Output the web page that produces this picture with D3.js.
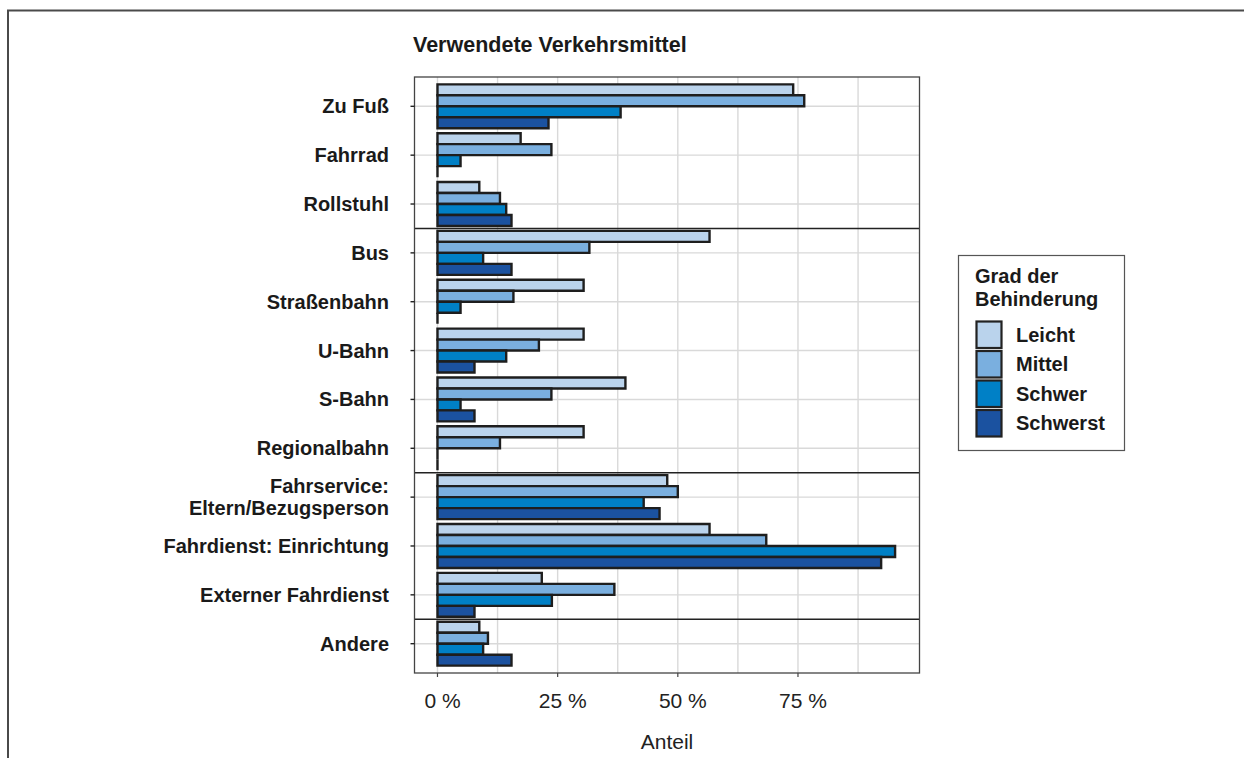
<html>
<head>
<meta charset="utf-8">
<title>Verwendete Verkehrsmittel</title>
<style type="text/css">
body { margin: 0; background: #fff; }
svg { font-family: "Liberation Sans", Arial, sans-serif; }
.grid { stroke: #d9d9d9; stroke-width: 1.4px; }
.bar { stroke: #1e1e1e; stroke-width: 2.4px; }
.lab { fill: #1a1a1a; font-weight: bold; font-size: 20px; }
</style>
</head>
<body>
<script src="https://d3js.org/d3.v7.min.js"></script>
<script>
// categories top to bottom
var categories = ["Zu Fuß", "Fahrrad", "Rollstuhl", "Bus", "Straßenbahn", "U-Bahn", "S-Bahn",
  "Regionalbahn", "Fahrservice:\nEltern/Bezugsperson", "Fahrdienst: Einrichtung",
  "Externer Fahrdienst", "Andere"];
var series = ["Leicht", "Mittel", "Schwer", "Schwerst"];
var colors = ["#bad3ec", "#7aafdf", "#0080c6", "#1b52a0"];

// share in % per degree of disability
var leicht   = [74.0, 17.3, 8.7, 56.6, 30.4, 30.4, 39.1, 30.4, 47.8, 56.6, 21.7, 8.7];
var mittel   = [76.3, 23.7, 13.0, 31.6, 15.8, 21.1, 23.7, 13.0, 50.0, 68.4, 36.8, 10.5];
var schwer   = [38.1, 4.8, 14.3, 9.5, 4.8, 14.3, 4.8, 0, 42.9, 95.2, 23.8, 9.5];
var schwerst = [23.1, 0, 15.4, 15.4, 0, 7.7, 7.7, 0, 46.2, 92.3, 7.7, 15.4];
var values = [leicht, mittel, schwer, schwerst];

// first category of each new group (dark separator line above it)
var groupStarts = ["Bus", "Fahrservice:\nEltern/Bezugsperson", "Andere"];

var xTicks = [0, 25, 50, 75];
var xGrid = [0, 12.5, 25, 37.5, 50, 62.5, 75, 87.5];

var W = 1244, H = 758;
var pl = 414.5, pr = 919.5, pt = 77, pb = 673;

var svg = d3.select("body").append("svg")
  .attr("width", W).attr("height", H);

// outer frame (only top and left visible)
svg.append("path")
  .attr("d", "M8,760 V10.5 H1250")
  .attr("fill", "none").attr("stroke", "#4a4a4a").attr("stroke-width", 2);

var x = d3.scaleLinear().domain([-4.78, 100.28]).range([pl, pr]);
var y = d3.scalePoint().domain(categories).range([pt, pb]).padding(0.6);
var step = y.step();
var sub = d3.scaleBand().domain(series).range([-0.45 * step, 0.45 * step]);

// title
svg.append("text")
  .attr("x", 413).attr("y", 52)
  .attr("class", "lab").style("font-size", "21.5px")
  .text("Verwendete Verkehrsmittel");

// grid
svg.append("g").selectAll("line.v").data(xGrid).join("line")
  .attr("class", "grid")
  .attr("x1", d => x(d)).attr("x2", d => x(d))
  .attr("y1", pt).attr("y2", pb);
svg.append("g").selectAll("line.h").data(categories).join("line")
  .attr("class", "grid")
  .attr("x1", pl).attr("x2", pr)
  .attr("y1", d => y(d)).attr("y2", d => y(d));

// bars (paths so that zero values still show as a thin line)
var rows = [];
categories.forEach(function(c, i) {
  series.forEach(function(s, j) {
    rows.push({cat: c, ser: s, v: values[j][i], col: colors[j]});
  });
});
svg.append("g").selectAll("path").data(rows).join("path")
  .attr("class", "bar")
  .attr("fill", d => d.col)
  .attr("d", function(d) {
    var y0 = y(d.cat) + sub(d.ser), y1 = y0 + sub.bandwidth();
    return "M" + x(0) + "," + y0 + "H" + x(d.v) + "V" + y1 + "H" + x(0) + "Z";
  });

// group separators
svg.append("g").selectAll("line").data(groupStarts).join("line")
  .attr("x1", pl).attr("x2", pr)
  .attr("y1", d => y(d) - step / 2).attr("y2", d => y(d) - step / 2)
  .attr("stroke", "#222").attr("stroke-width", 1.4);

// panel border
svg.append("rect")
  .attr("x", pl).attr("y", pt).attr("width", pr - pl).attr("height", pb - pt)
  .attr("fill", "none").attr("stroke", "#444").attr("stroke-width", 1.3);

// y axis
var yAxis = svg.append("g");
yAxis.selectAll("line").data(categories).join("line")
  .attr("x1", pl - 4).attr("x2", pl)
  .attr("y1", d => y(d)).attr("y2", d => y(d))
  .attr("stroke", "#222").attr("stroke-width", 1.4);
yAxis.selectAll("text").data(categories).join("text")
  .attr("class", "lab")
  .attr("text-anchor", "end")
  .attr("x", 389)
  .attr("y", d => y(d))
  .each(function(d) {
    var parts = d.split("\n");
    var t = d3.select(this);
    parts.forEach(function(p, k) {
      t.append("tspan").attr("x", 389)
        .attr("dy", k === 0 ? (7 - (parts.length - 1) * 11) + "px" : "22px")
        .text(p);
    });
  });

// x axis
var xAxis = svg.append("g");
xAxis.selectAll("line").data(xTicks).join("line")
  .attr("x1", d => x(d)).attr("x2", d => x(d))
  .attr("y1", pb).attr("y2", pb + 4)
  .attr("stroke", "#444").attr("stroke-width", 1.2);
xAxis.selectAll("text").data(xTicks).join("text")
  .attr("x", d => x(d) + 5).attr("y", 708)
  .attr("text-anchor", "middle")
  .attr("fill", "#222").style("font-size", "21px")
  .text(d => d + " %");

svg.append("text")
  .attr("x", (pl + pr) / 2).attr("y", 749)
  .attr("text-anchor", "middle")
  .attr("fill", "#222").style("font-size", "21px")
  .text("Anteil");

// legend
var leg = svg.append("g");
leg.append("rect")
  .attr("x", 958.5).attr("y", 255.5).attr("width", 166).attr("height", 195)
  .attr("fill", "#fff").attr("stroke", "#555").attr("stroke-width", 1.2);
leg.append("text").attr("class", "lab").attr("x", 975).attr("y", 283).text("Grad der");
leg.append("text").attr("class", "lab").attr("x", 975).attr("y", 306).text("Behinderung");
var ly = d3.scaleBand().domain(series).range([320, 438]);
leg.selectAll("rect.key").data(series).join("rect")
  .attr("class", "key")
  .attr("x", 976.5).attr("y", d => ly(d) + 1.5)
  .attr("width", 25).attr("height", ly.bandwidth() - 3)
  .attr("fill", (d, i) => colors[i])
  .attr("stroke", "#222").attr("stroke-width", 2.2);
leg.selectAll("text.key").data(series).join("text")
  .attr("class", "lab")
  .attr("x", 1016).attr("y", d => ly(d) + ly.bandwidth() / 2 + 7)
  .text(d => d);
</script>
</body>
</html>
